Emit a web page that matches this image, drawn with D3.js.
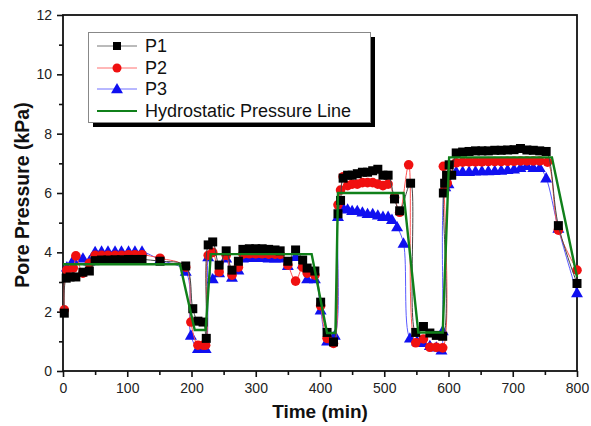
<!DOCTYPE html>
<html><head><meta charset="utf-8">
<script src="https://cdn.jsdelivr.net/npm/d3@7"></script>
<style>body{margin:0;background:#fff}svg{display:block}text{font-family:Arial,"Liberation Sans",sans-serif}</style>
</head><body><svg id="c" width="591" height="426"></svg>
<script>
const xTicks = [0,100,200,300,400,500,600,700,800];
const yTicks = [0,2,4,6,8,10,12];
const seriesNames = ["P1","P2","P3","Hydrostatic Pressure Line"];

const p1Time = [2,5,11,20,31,41, 50,60,70,81,91,102,112,123, 151,191, 202,210,218,223, 226,233,243,254,263,273, 280,290,300,310,320,330,338, 350,362,373,380,392, 401,411,421, 428,432,436,443,450,458,466,474,482,490,498,506, 516,524,541, 549,561,571,581,591, 592,594,597,601,605, 612,622,632,642,652,662,672,682,692,702,712,722,732,742,752, 771,800];
const p1Val  = [1.95,3.13,3.17,3.17,3.33,3.37, 3.72,3.74,3.74,3.75,3.75,3.76,3.76,3.76, 3.7,3.54, 2.1,1.68,1.65,1.1, 4.25,4.35,3.57,4.05,3.4,3.7, 4.1,4.12,4.12,4.12,4.1,4.08,4.05, 3.7,4.08,3.74,3.47,3.37, 2.32,1.3,0.98, 5.3,5.75,6.5,6.6,6.6,6.65,6.7,6.7,6.75,6.8,6.6,6.6, 5.8,5.4,6.33, 1.3,1.5,1.28,1.2,1.17, 6.0,6.33,6.6,6.95,6.6, 7.35,7.38,7.4,7.42,7.42,7.42,7.44,7.44,7.45,7.46,7.5,7.45,7.44,7.42,7.4, 4.9,2.95];

const p2Time = [2,6,16,20,31,41, 50,60,70,81,91,102,112,123, 151,191, 199,210,218,222, 226,233,243,254,263,273, 280,290,300,310,320,330,338, 350,362,373,380,392, 401,411,421, 428,432,436,443,450,458,466,474,482,490,498,506, 516,524,538, 549,561,571,581,591, 592,594,598, 612,622,632,642,652,662,672,682,692,702,712,722,732,742,754, 771,800];
const p2Val  = [2.06,3.4,3.47,3.88,3.3,3.63, 3.9,3.9,3.9,3.9,3.9,3.92,3.92,3.92, 3.8,3.5, 1.65,0.87,0.87,0.87, 3.9,4.0,3.34,3.9,3.23,3.5, 3.94,3.95,3.95,3.95,3.94,3.94,3.93, 3.57,3.03,3.5,3.3,3.23, 2.2,1.1,0.93, 5.6,6.1,6.55,6.25,6.3,6.3,6.35,6.35,6.35,6.3,6.25,6.3, 5.85,5.35,6.95, 0.95,1.08,0.8,0.8,0.78, 6.9,6.1,6.33, 7.02,7.04,7.05,7.05,7.05,7.06,7.06,7.06,7.07,7.07,7.08,7.08,7.08,7.08,7.04, 4.75,3.4];

const p3Time = [6,16,31,41, 50,60,70,81,91,102,112,123, 151,191, 199,210,218,222, 226,233,243,254,263,273, 280,290,300,310,320,330,338, 350,362,373,380,392, 401,411,423, 428,432,436,443,450,458,466,474,482,490,498,506, 512,520,530, 540,551,561,571,581,589,591, 595,600, 612,622,632,642,652,662,672,682,692,702,712,722,732,742,752, 771,800];
const p3Val  = [3.5,3.74,3.8,3.7, 4.02,4.03,4.03,4.03,4.03,4.03,4.03,4.03, 3.75,3.35, 1.2,0.75,0.75,0.75, 3.84,3.1,3.3,3.8,3.15,3.4, 3.8,3.82,3.82,3.82,3.8,3.8,3.8, 3.55,3.85,3.6,3.1,3.1, 2.05,1.0,1.2, 5.2,5.6,5.5,5.45,5.4,5.4,5.35,5.3,5.3,5.25,5.2,5.2, 5.1,4.85,4.3, 1.1,1.0,0.95,0.85,0.8,0.7,1.35, 6.2,6.3, 6.72,6.72,6.72,6.73,6.74,6.74,6.75,6.76,6.78,6.8,6.85,6.92,6.85,6.85,6.5, 4.8,2.63];

const hydTime = [0,182,205,222,230,387,411,424,428,530,553,591,601,761,800];
const hydVal  = [3.6,3.6,1.38,1.38,3.94,3.94,1.28,1.28,6.0,6.0,1.3,1.3,7.2,7.2,3.17];

const svg = d3.select("#c");
const L=63, R=577, T=15, B=371;
const x = d3.scaleLinear().domain([0,800]).range([L,R]);
const y = d3.scaleLinear().domain([0,12]).range([B,T]);

const xAxis = d3.axisBottom(x).tickValues(xTicks).tickSize(6).tickPadding(6).tickFormat(d3.format("d"));
const xMinor = d3.axisBottom(x).tickValues(d3.range(50,800,100)).tickSize(4).tickFormat("");
const yAxis = d3.axisLeft(y).tickValues(yTicks).tickSize(6).tickPadding(5).tickFormat(d3.format("d"));
const yMinor = d3.axisLeft(y).tickValues(d3.range(1,12,2)).tickSize(4).tickFormat("");

function styleAxis(g){
  g.select(".domain").remove();
  g.selectAll("line").attr("stroke","#111").attr("stroke-width",1.6);
  g.selectAll("text").attr("fill","#222").style("font-size","14px").style("font-family","Arial, 'Liberation Sans', sans-serif");
}
svg.append("g").attr("transform",`translate(0,${B})`).call(xAxis).call(styleAxis);
svg.append("g").attr("transform",`translate(0,${B})`).call(xMinor).call(styleAxis);
svg.append("g").attr("transform",`translate(${L},0)`).call(yAxis).call(styleAxis);
svg.append("g").attr("transform",`translate(${L},0)`).call(yMinor).call(styleAxis);

svg.append("rect").attr("x",L).attr("y",T).attr("width",R-L).attr("height",B-T)
  .attr("fill","none").attr("stroke","#111").attr("stroke-width",1.8);

svg.append("text").attr("x",(L+R)/2).attr("y",418).attr("text-anchor","middle")
  .style("font-size","19px").style("font-weight","bold").attr("fill","#111").text("Time (min)");
svg.append("text").attr("transform",`translate(29,${(T+B)/2+2}) rotate(-90)`).attr("text-anchor","middle")
  .style("font-size","19.5px").style("font-weight","bold").attr("fill","#111").text("Pore Pressure (kPa)");

const line = d3.line().x(d=>x(d[0])).y(d=>y(d[1])).curve(d3.curveCatmullRom.alpha(0.5));
const zip = (a,b)=>a.map((t,i)=>[t,b[i]]);

const tri = d3.symbol().type(d3.symbolTriangle).size(62);
const plot = svg.append("g");

function drawSeries(data, lineColor, kind, color){
  plot.append("path").datum(data).attr("d",line).attr("fill","none").attr("stroke",lineColor).attr("stroke-width",1);
  const g = plot.append("g");
  if(kind==="sq"){
    g.selectAll("rect").data(data).join("rect").attr("x",d=>x(d[0])-4.5).attr("y",d=>y(d[1])-4.5)
      .attr("width",9).attr("height",9).attr("fill",color);
  } else if(kind==="ci"){
    g.selectAll("circle").data(data).join("circle").attr("cx",d=>x(d[0])).attr("cy",d=>y(d[1])).attr("r",4.8).attr("fill",color);
  } else {
    g.selectAll("path").data(data).join("path").attr("d",tri).attr("transform",d=>`translate(${x(d[0])},${y(d[1])+0.8})`).attr("fill",color);
  }
}
drawSeries(zip(p3Time,p3Val),"#5a5aff","tr","#1010f0");
drawSeries(zip(p2Time,p2Val),"#ff5050","ci","#f01010");
drawSeries(zip(p1Time,p1Val),"#444","sq","#000");
plot.append("path").datum(zip(hydTime,hydVal)).attr("d",d3.line().x(d=>x(d[0])).y(d=>y(d[1])))
  .attr("fill","none").attr("stroke","#10801a").attr("stroke-width",2.4).attr("stroke-linejoin","miter");

const lg = svg.append("g");
lg.append("rect").attr("x",93).attr("y",37).attr("width",282).attr("height",90).attr("fill","#000");
lg.append("rect").attr("x",88.5).attr("y",32.5).attr("width",282).attr("height",90).attr("fill","#fff").attr("stroke","#888").attr("stroke-width",1);
const rows = [46,68,89,111];
const lcols = ["#777","#ff7070","#7070ff","#10801a"];
rows.forEach((ry,i)=>{
  lg.append("line").attr("x1",97).attr("x2",137).attr("y1",ry).attr("y2",ry).attr("stroke",lcols[i]).attr("stroke-width",i===3?2.2:1);
  if(i===0) lg.append("rect").attr("x",113).attr("y",ry-4).attr("width",8).attr("height",8).attr("fill","#000");
  if(i===1) lg.append("circle").attr("cx",117).attr("cy",ry).attr("r",4.5).attr("fill","#f01010");
  if(i===2) lg.append("path").attr("d",tri).attr("transform",`translate(117,${ry+0.8})`).attr("fill","#1010f0");
  lg.append("text").attr("x",145).attr("y",ry+6).style("font-size","18px").attr("fill","#111").text(seriesNames[i]);
});
</script></body></html>
